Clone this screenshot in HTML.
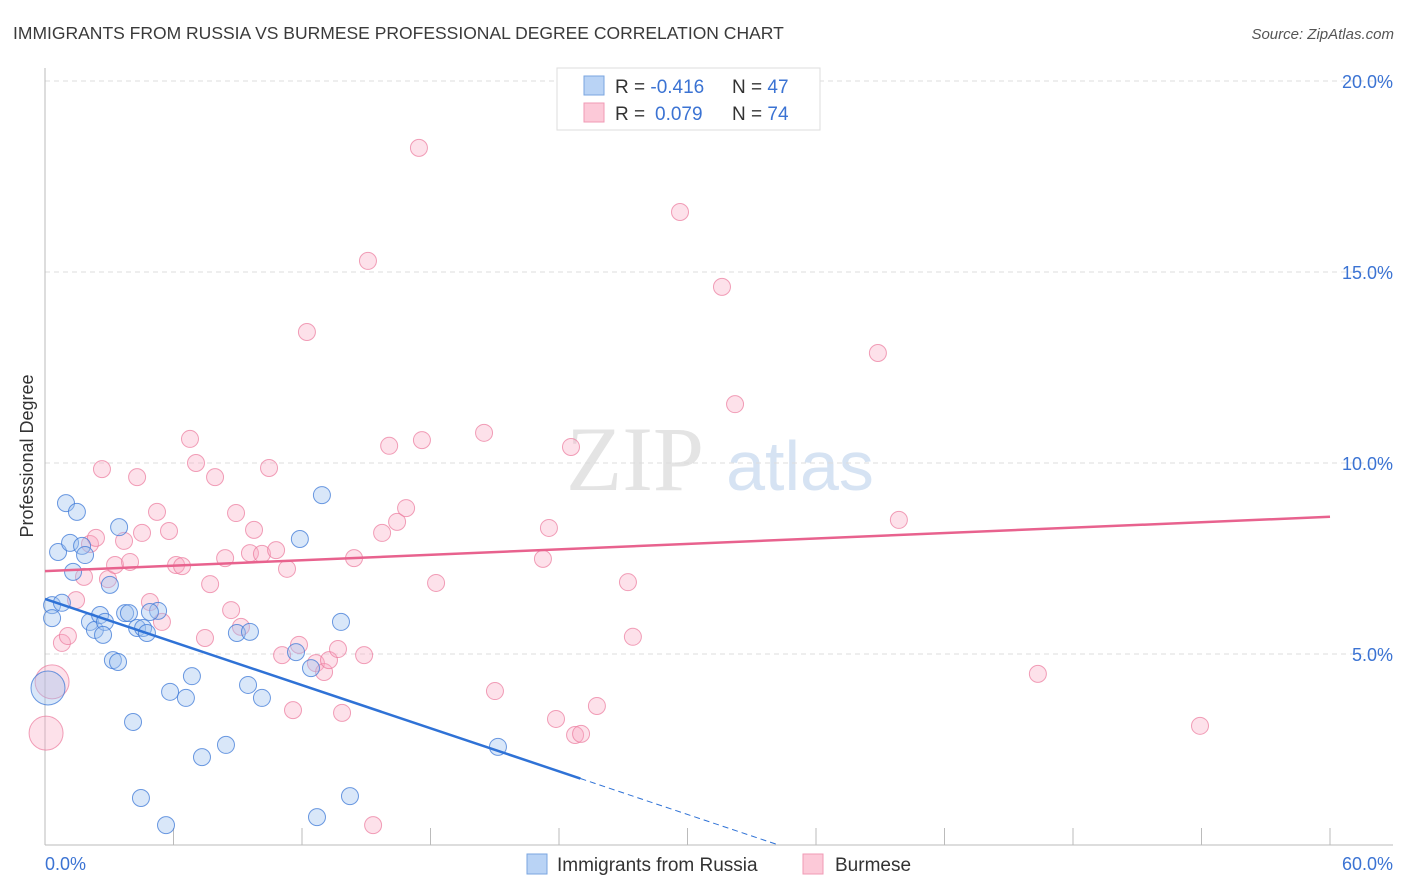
<!DOCTYPE html>
<html><head><meta charset="utf-8"><style>
body{margin:0;background:#fff;font-family:"Liberation Sans",sans-serif;}
#wrap{position:relative;width:1406px;height:892px;overflow:hidden;}
</style></head><body>
<div id="wrap">
<svg id="svg" width="1406" height="892" xmlns="http://www.w3.org/2000/svg">
<text x="13" y="39" font-size="17.5" fill="#3a3a3a">IMMIGRANTS FROM RUSSIA VS BURMESE PROFESSIONAL DEGREE CORRELATION CHART</text>
<text x="1394" y="39" font-size="15" fill="#555" font-style="italic" text-anchor="end">Source: ZipAtlas.com</text>
<text x="0" y="0" font-size="18" fill="#333" transform="translate(33,456) rotate(-90)" text-anchor="middle">Professional Degree</text>
<g>
<text x="635" y="490" font-size="92" fill="#e4e4e4" font-family="Liberation Serif,serif" text-anchor="middle">ZIP</text>
<text x="800" y="490" font-size="70" fill="#d6e3f3" text-anchor="middle">atlas</text>
</g>
<g id="grid"></g><g id="axes"></g><g id="pts"></g><g id="lines"></g>
<g>
<rect x="557" y="68" width="263" height="62" fill="#fff" stroke="#ddd"/>
<rect x="584" y="76" width="20" height="19" fill="#b9d3f5" stroke="#7aa6e0"/>
<rect x="584" y="103" width="20" height="19" fill="#fcc9d8" stroke="#f09ab5"/>
<text x="615" y="93" font-size="19" fill="#333">R = <tspan fill="#3b73d3">-0.416</tspan><tspan x="732">N = </tspan><tspan fill="#3b73d3">47</tspan></text>
<text x="615" y="120" font-size="19" fill="#333">R = <tspan fill="#3b73d3" x="655">0.079</tspan><tspan x="732">N = </tspan><tspan fill="#3b73d3">74</tspan></text>
</g>
<g>
<rect x="527" y="854" width="20" height="20" fill="#b9d3f5" stroke="#7aa6e0"/>
<text x="557" y="871" font-size="19" fill="#333">Immigrants from Russia</text>
<rect x="803" y="854" width="20" height="20" fill="#fcc9d8" stroke="#f09ab5"/>
<text x="835" y="871" font-size="19" fill="#333">Burmese</text>
</g>
</svg>
</div>
<script>
const yTicks=[5,10,15,20];
const yTickLabels=["5.0%","10.0%","15.0%","20.0%"];
const xTickLabels=["0.0%","60.0%"];
const russiaX=[0.33,0.61,0.98,1.17,1.49,1.31,1.73,1.87,0.79,0.33,0.14,2.1,2.33,2.57,2.8,2.71,3.03,3.46,3.17,3.41,3.74,3.92,4.3,4.58,4.76,5.28,4.11,4.48,5.65,5.84,6.58,6.86,7.33,8.45,8.96,9.57,9.48,10.13,11.9,11.72,12.42,12.93,12.7,13.82,14.24,21.15,4.9];
const russiaY=[6.28,7.67,8.95,7.91,8.72,7.15,7.83,7.59,6.34,5.94,4.11,5.84,5.63,6.02,5.84,5.5,6.81,8.32,4.84,4.79,6.07,6.07,5.68,5.68,5.55,6.13,3.22,1.23,0.52,4.01,3.85,4.42,2.3,2.62,5.55,5.58,4.19,3.85,8.01,5.05,4.63,9.16,0.73,5.84,1.28,2.57,6.1];
const russiaBig=[10];
const burmX=[0.05,0.33,0.79,1.07,1.45,1.82,2.1,2.38,2.66,2.94,3.27,3.69,3.97,4.3,4.53,4.9,5.23,5.46,5.79,6.12,6.4,6.77,7.05,7.47,7.71,7.94,8.41,8.69,8.92,9.15,9.57,9.76,10.13,10.46,10.79,11.3,11.07,11.58,11.86,12.23,12.65,13.03,13.26,13.68,13.87,14.43,14.9,15.08,15.32,15.74,16.07,16.44,16.86,17.46,17.6,18.26,20.5,21.01,23.25,23.53,23.86,24.56,24.75,25.03,25.77,27.22,27.45,29.65,31.61,32.22,38.89,39.87,46.36,53.93];
const burmY=[2.93,4.27,5.29,5.47,6.41,7.02,7.88,8.04,9.84,6.96,7.33,7.96,7.41,9.63,8.17,6.36,8.72,5.84,8.22,7.33,7.3,10.63,10.0,5.42,6.83,9.63,7.51,6.15,8.69,5.71,7.64,8.25,7.62,9.87,7.72,7.23,4.97,3.53,5.24,13.43,4.76,4.53,4.84,5.13,3.46,7.51,4.97,15.29,0.52,8.17,10.45,8.46,8.82,18.25,10.6,6.86,10.79,4.03,7.49,8.3,3.3,10.42,2.88,2.91,3.64,6.88,5.45,16.57,14.61,11.54,12.88,8.51,4.48,3.12];
const burmBig=[0,1];
const russiaTrend=[6.44,-0.188];
const russiaSolidEnd=25.0;
const burmTrend=[7.17,0.0237];

const X0=45,X1=1330,YB=845,PX=38.2;
const sx=v=>X0+(X1-X0)*v/60, sy=v=>YB-v*PX;
const NS="http://www.w3.org/2000/svg";
function mk(parent,tag,attrs){const e=document.createElementNS(NS,tag);for(const k in attrs)e.setAttribute(k,attrs[k]);document.getElementById(parent).appendChild(e);return e;}
yTicks.forEach((t,i)=>{
 const l=mk('grid','line',{x1:X0,x2:1393,y1:sy(t),y2:sy(t),stroke:'#ddd','stroke-dasharray':'5,4'});
 
 
 const tx=mk('grid','text',{x:1393,y:sy(t)+7,'font-size':18,fill:'#3b73d3','text-anchor':'end'});
 tx.textContent=yTickLabels[i];
 
 
});
let a=mk('axes','line',{x1:X0,x2:X0,y1:68,y2:YB,stroke:'#bbb'});


a=mk('axes','line',{x1:X0,x2:1393,y1:YB,y2:YB,stroke:'#bbb'});


for(let i=1;i<=10;i++){const t=mk('axes','line',{x1:sx(i*6),x2:sx(i*6),y1:828,y2:YB,stroke:'#bbb'});
 
 }
let xl=mk('axes','text',{x:45,y:870,'font-size':18,fill:'#3b73d3'});xl.textContent=xTickLabels[0];


xl=mk('axes','text',{x:1393,y:870,'font-size':18,fill:'#3b73d3','text-anchor':'end'});xl.textContent=xTickLabels[1];


burmX.forEach((x,i)=>{const c=mk('pts','circle',{cx:sx(x),cy:sy(burmY[i]),r:burmBig.includes(i)?17:8.5,fill:'rgba(248,170,195,0.35)',stroke:'rgba(235,120,155,0.7)','stroke-width':1});
 
 });
russiaX.forEach((x,i)=>{const c=mk('pts','circle',{cx:sx(x),cy:sy(russiaY[i]),r:russiaBig.includes(i)?17:8.5,fill:'rgba(160,195,240,0.4)',stroke:'rgba(60,120,215,0.75)','stroke-width':1});
 
 });
const rf=x=>russiaTrend[0]+russiaTrend[1]*x;
let tl=mk('lines','line',{x1:sx(0),y1:sy(rf(0)),x2:sx(russiaSolidEnd),y2:sy(rf(russiaSolidEnd)),stroke:'#2f72d6','stroke-width':2.5});


const zx=-russiaTrend[0]/russiaTrend[1];
tl=mk('lines','line',{x1:sx(russiaSolidEnd),y1:sy(rf(russiaSolidEnd)),x2:sx(zx),y2:sy(0),stroke:'#2f72d6','stroke-width':1,'stroke-dasharray':'6,4'});


const bf=x=>burmTrend[0]+burmTrend[1]*x;
tl=mk('lines','line',{x1:sx(0),y1:sy(bf(0)),x2:sx(60),y2:sy(bf(60)),stroke:'#e8628e','stroke-width':2.5});


</script>
</body></html>
